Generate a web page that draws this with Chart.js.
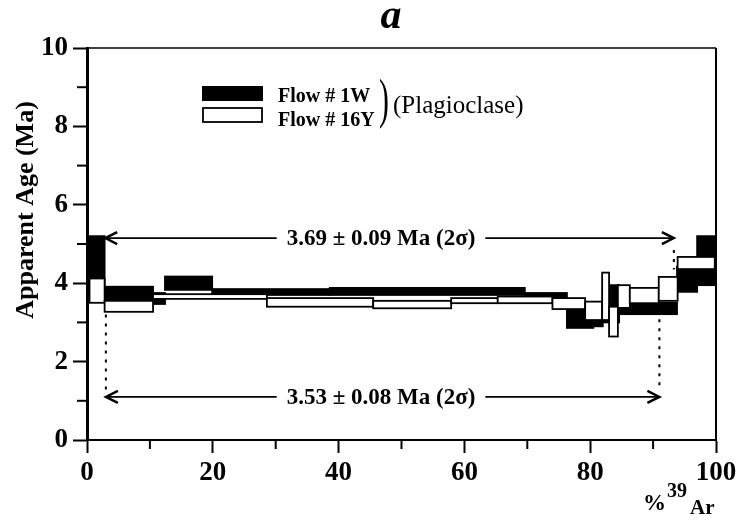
<!DOCTYPE html>
<html>
<head>
<meta charset="utf-8">
<script src="https://cdn.jsdelivr.net/npm/chart.js@4.4.1/dist/chart.umd.min.js"></script>
<style>
  html, body { margin: 0; padding: 0; background: #fff; }
  #wrap { width: 744px; height: 523px; }
</style>
</head>
<body>
<div id="wrap"><canvas id="spectrum" width="744" height="523"></canvas></div>
<script>
// Flow # 1W (black) - step edges in % 39Ar, and age band low / high (Ma)
const flow1W_edges = [0, 2.8, 10.5, 12.4, 19.9, 38.6, 69.6, 76.3, 80.5, 82.0, 84.6, 93.8, 97.0, 100];
const flow1W_low   = [3.90, 3.57, 3.47, 3.83, 3.70, 3.70, 3.57, 2.86, 2.90, 3.00, 3.21, 3.78, 3.95];
const flow1W_high  = [5.20, 3.91, 3.75, 4.17, 3.85, 3.88, 3.75, 3.44, 3.25, 3.95, 3.50, 4.42, 5.20];

// Flow # 16Y (white)
const flow16Y_edges = [0.4, 2.8, 10.5, 28.6, 45.5, 57.9, 65.3, 74.0, 79.2, 81.9, 83.0, 84.4, 86.3, 90.9, 93.9, 99.8];
const flow16Y_low   = [3.50, 3.27, 3.60, 3.40, 3.36, 3.49, 3.49, 3.34, 3.06, 3.06, 2.64, 3.37, 3.49, 3.55, 4.36];
const flow16Y_high  = [4.12, 3.55, 3.72, 3.62, 3.55, 3.62, 3.66, 3.62, 3.53, 4.27, 3.40, 3.95, 3.88, 4.16, 4.67];

// plateau arrows
const plateauText = ['3.69 \u00b1 0.09 Ma (2\u03c3)', '3.53 \u00b1 0.08 Ma (2\u03c3)'];
const plateauAge  = [5.15, 1.10];
const plateauFrom = [2.9, 3.0];
const plateauTo   = [93.3, 91.0];

// dotted drop lines
const dropX      = [93.3, 3.0, 91.0];
const dropTop    = [4.85, 3.20, 3.08];
const dropBottom = [4.35, 1.28, 1.33];

const xTicks = [0, 20, 40, 60, 80, 100];
const yTicks = [0, 2, 4, 6, 8, 10];

const serif = "'Liberation Serif', 'Times New Roman', serif";

const boxes = (ctx, xs, ys, edges, low, high, fill) => {
  for (let i = 0; i < low.length; i++) {
    const x1 = xs.getPixelForValue(edges[i]);
    const x2 = xs.getPixelForValue(edges[i + 1]);
    const yTop = ys.getPixelForValue(high[i]);
    const yBot = ys.getPixelForValue(low[i]);
    ctx.fillStyle = fill;
    ctx.fillRect(x1, yTop, x2 - x1, yBot - yTop);
    ctx.strokeRect(x1, yTop, x2 - x1, yBot - yTop);
  }
};

const arrowHead = (ctx, x, y, dir) => {
  ctx.beginPath();
  ctx.moveTo(x - dir * 12, y - 6);
  ctx.lineTo(x, y);
  ctx.lineTo(x - dir * 12, y + 6);
  ctx.stroke();
};

const spectrumPlugin = {
  id: 'spectrum',
  beforeDatasetsDraw(chart) {
    const { ctx, chartArea: a, scales } = chart;
    const xs = scales.x, ys = scales.y;
    ctx.save();
    ctx.beginPath();
    ctx.rect(a.left, a.top, a.right - a.left, a.bottom - a.top);
    ctx.clip();
    ctx.strokeStyle = '#000';
    ctx.lineWidth = 1.8;
    boxes(ctx, xs, ys, flow1W_edges, flow1W_low, flow1W_high, '#000');
    boxes(ctx, xs, ys, flow16Y_edges, flow16Y_low, flow16Y_high, '#fff');
    ctx.restore();

    ctx.save();
    ctx.strokeStyle = '#000';
    // plateau arrows with text
    ctx.font = 'bold 23px ' + serif;
    ctx.textBaseline = 'middle';
    ctx.textAlign = 'center';
    ctx.fillStyle = '#000';
    for (let i = 0; i < plateauText.length; i++) {
      const y = ys.getPixelForValue(plateauAge[i]);
      const x1 = xs.getPixelForValue(plateauFrom[i]);
      const x2 = xs.getPixelForValue(plateauTo[i]);
      const cx = 381;
      const w = ctx.measureText(plateauText[i]).width;
      ctx.fillText(plateauText[i], cx, y + 1);
      ctx.lineWidth = 1.6;
      ctx.beginPath();
      ctx.moveTo(x1, y);
      ctx.lineTo(cx - w / 2 - 10, y);
      ctx.moveTo(cx + w / 2 + 10, y);
      ctx.lineTo(x2, y);
      ctx.stroke();
      ctx.lineWidth = 2.4;
      arrowHead(ctx, x1, y, -1);
      arrowHead(ctx, x2, y, 1);
    }
    // dotted drop lines
    ctx.lineWidth = 2;
    ctx.setLineDash([3, 6]);
    for (let i = 0; i < dropX.length; i++) {
      const x = xs.getPixelForValue(dropX[i]);
      ctx.beginPath();
      ctx.moveTo(x, ys.getPixelForValue(dropTop[i]));
      ctx.lineTo(x, ys.getPixelForValue(dropBottom[i]));
      ctx.stroke();
    }
    ctx.setLineDash([]);
    ctx.restore();
  },
  afterDraw(chart) {
    const { ctx, chartArea: a, scales } = chart;
    const xs = scales.x, ys = scales.y;
    ctx.save();
    ctx.strokeStyle = '#000';
    // frame top and right
    ctx.lineWidth = 1.5;
    ctx.beginPath();
    ctx.moveTo(a.left, a.top);
    ctx.lineTo(a.right, a.top);
    ctx.stroke();
    ctx.lineWidth = 2;
    ctx.beginPath();
    ctx.moveTo(a.right, a.top);
    ctx.lineTo(a.right, a.bottom);
    ctx.stroke();
    // minor ticks
    ctx.lineWidth = 2;
    for (let i = 0; i < yTicks.length - 1; i++) {
      const y = ys.getPixelForValue((yTicks[i] + yTicks[i + 1]) / 2);
      ctx.beginPath();
      ctx.moveTo(a.left - 10, y);
      ctx.lineTo(a.left, y);
      ctx.stroke();
    }
    for (let i = 0; i < xTicks.length - 1; i++) {
      const x = xs.getPixelForValue((xTicks[i] + xTicks[i + 1]) / 2);
      ctx.beginPath();
      ctx.moveTo(x, a.bottom);
      ctx.lineTo(x, a.bottom + 9);
      ctx.stroke();
    }

    ctx.fillStyle = '#000';
    // title
    ctx.font = 'italic bold 42px ' + serif;
    ctx.textAlign = 'center';
    ctx.textBaseline = 'alphabetic';
    ctx.fillText('a', 391, 28);

    // y title
    ctx.save();
    ctx.translate(26, 210);
    ctx.rotate(-Math.PI / 2);
    ctx.font = 'bold 26px ' + serif;
    ctx.textBaseline = 'middle';
    ctx.fillText('Apparent Age (Ma)', 0, 0);
    ctx.restore();

    // x title
    ctx.textAlign = 'left';
    ctx.font = 'bold 23px ' + serif;
    ctx.fillText('%', 643, 510);
    ctx.font = 'bold 20px ' + serif;
    ctx.fillText('39', 667, 497);
    ctx.font = 'bold 21px ' + serif;
    ctx.fillText('Ar', 690, 514);

    // legend
    ctx.lineWidth = 1.8;
    ctx.fillStyle = '#000';
    ctx.fillRect(202, 86, 61, 15);
    ctx.fillStyle = '#fff';
    ctx.fillRect(203, 108, 59, 14);
    ctx.strokeRect(203, 108, 59, 14);
    ctx.fillStyle = '#000';
    ctx.font = 'bold 20px ' + serif;
    ctx.fillText('Flow # 1W', 278, 102);
    ctx.fillText('Flow # 16Y', 278, 126);
    ctx.save();
    ctx.translate(379, 117);
    ctx.scale(0.55, 1);
    ctx.font = '54px ' + serif;
    ctx.fillText(')', 0, 0);
    ctx.restore();
    ctx.font = '25px ' + serif;
    ctx.fillText('(Plagioclase)', 393, 113);
    ctx.restore();
  }
};

const tickFont = { family: serif, size: 27, weight: 'bold' };

const config = {
  type: 'scatter',
  data: { datasets: [] },
  options: {
    responsive: false,
    animation: false,
    devicePixelRatio: 1,
    layout: { padding: { left: 0, right: 28, top: 48, bottom: 0 } },
    plugins: { legend: { display: false }, tooltip: { enabled: false } },
    scales: {
      x: {
        type: 'linear',
        min: 0,
        max: 100,
        afterBuildTicks: (s) => { s.ticks = xTicks.map((v) => ({ value: v })); },
        afterFit: (s) => { s.height = 83; },
        ticks: { font: tickFont, color: '#000', padding: 4, maxRotation: 0 },
        grid: { drawOnChartArea: false, color: '#000', tickLength: 13, tickWidth: 2 },
        border: { color: '#000', width: 2 }
      },
      y: {
        type: 'linear',
        min: 0,
        max: 10,
        afterBuildTicks: (s) => { s.ticks = yTicks.map((v) => ({ value: v })); },
        afterFit: (s) => { s.width = 87; },
        ticks: { font: tickFont, color: '#000', padding: 5 },
        grid: { drawOnChartArea: false, color: '#000', tickLength: 14, tickWidth: 2 },
        border: { color: '#000', width: 3 }
      }
    }
  },
  plugins: [spectrumPlugin]
};

const myChart = new Chart(document.getElementById('spectrum'), config);
</script>
</body>
</html>
